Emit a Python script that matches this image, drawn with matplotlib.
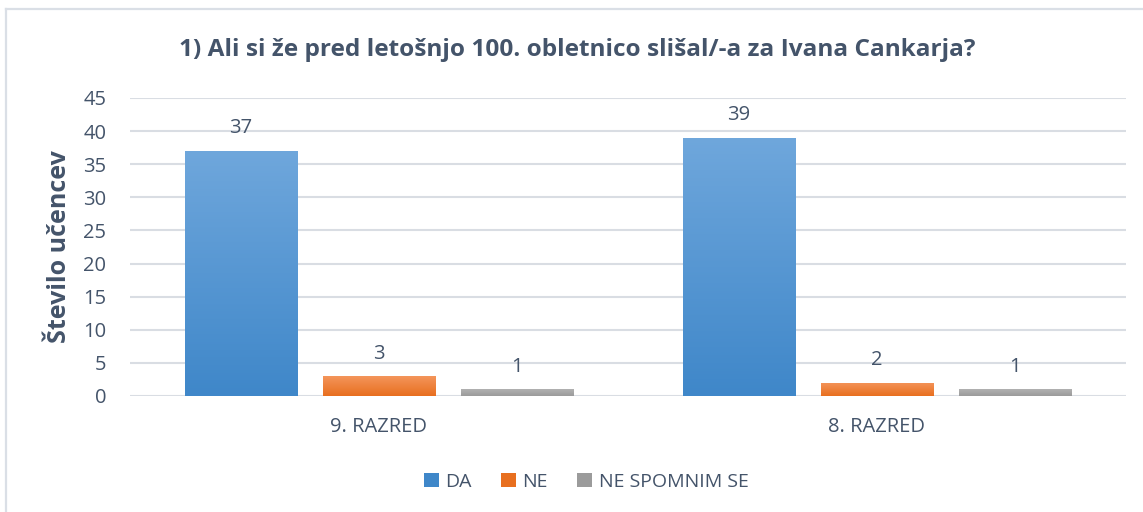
import matplotlib
matplotlib.use("Agg")
import matplotlib.pyplot as plt
import numpy as np
from matplotlib.colors import LinearSegmentedColormap
from matplotlib.lines import Line2D

categories = ["9. RAZRED", "8. RAZRED"]
series_names = ["DA", "NE", "NE SPOMNIM SE"]
da = [37, 39]
ne = [3, 2]
ne_spomnim = [1, 1]
yticks = [0, 5, 10, 15, 20, 25, 30, 35, 40, 45]

title = "1) Ali si že pred letošnjo 100. obletnico slišal/-a za Ivana Cankarja?"
ylabel = "Število učencev"

grad = {
    "DA": ("#3f87c9", "#6fa7dc"),
    "NE": ("#e86f1f", "#f4955b"),
    "NE SPOMNIM SE": ("#9b9b9b", "#b1b1b1"),
}

txt = "#44546a"
plt.rcParams["font.family"] = ["Open Sans", "DejaVu Sans"]

fig = plt.figure(figsize=(11.43, 5.12), dpi=100)
ax = fig.add_axes([0.1137, 0.2266, 0.8713, 0.582])

# outer border (only left and top visible in the crop)
bx0, by0 = 5.5 / 1143, 1 - 8.5 / 512
fig.lines.append(Line2D([bx0, bx0], [0, by0], transform=fig.transFigure,
                        color="#dadfe6", linewidth=1.6))
fig.lines.append(Line2D([bx0, 1], [by0, by0], transform=fig.transFigure,
                        color="#dadfe6", linewidth=1.6))

x = np.arange(len(categories))
width = 0.225
step = 0.277
all_series = [da, ne, ne_spomnim]
grad_img = np.linspace(0, 1, 256).reshape(-1, 1)
for i, (name, vals) in enumerate(zip(series_names, all_series)):
    pos = x + (i - 1) * step
    bars = ax.bar(pos, vals, width, color=grad[name][0], label=name, zorder=2)
    cmap = LinearSegmentedColormap.from_list(name, [grad[name][0], grad[name][1]])
    for b, v in zip(bars, vals):
        bx, by = b.get_x(), b.get_y()
        bw, bh = b.get_width(), b.get_height()
        im = ax.imshow(grad_img, cmap=cmap, aspect="auto", origin="lower",
                       extent=[bx, bx + bw, by, by + bh], zorder=3)
        im.set_clip_path(b)
        ax.annotate(str(v), (bx + bw / 2, bh), xytext=(0, 9), textcoords="offset points",
                    ha="center", va="bottom", fontsize=14.5, color=txt)

ax.set_xlim(-0.5, 1.5)
ax.set_ylim(0, 45)
ax.set_yticks(yticks)
ax.set_xticks(x)
ax.set_xticklabels(categories)
ax.tick_params(axis="both", length=0, labelsize=14.5, colors=txt)
ax.tick_params(axis="x", pad=15)
ax.tick_params(axis="y", pad=17)
ax.yaxis.grid(True, color="#d9dde3", linewidth=1.5, zorder=0)
ax.set_axisbelow(True)
for s in ax.spines.values():
    s.set_visible(False)

ax.set_ylabel(ylabel, fontsize=18, fontweight="bold", color=txt, labelpad=8)
fig.text(0.505, 0.903, title, ha="center", va="center", fontsize=17.6,
         fontweight="bold", color=txt)

handles, labels = ax.get_legend_handles_labels()
leg = fig.legend(handles, labels, loc="center", bbox_to_anchor=(0.513, 0.059), ncol=3,
                 frameon=False, fontsize=14, handlelength=0.75, handleheight=0.75,
                 columnspacing=1.5, handletextpad=0.35, labelcolor=txt)

fig.savefig("out.png", dpi=100)
